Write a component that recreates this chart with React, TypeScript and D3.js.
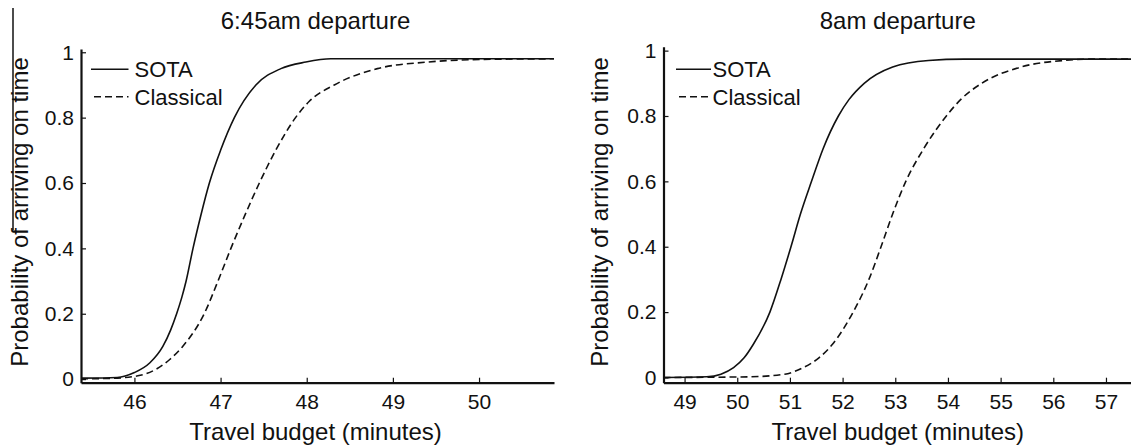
import React, { useRef, useEffect } from "react";
import * as d3 from "d3";

// tick values / labels
const earlyTicks = [46, 47, 48, 49, 50];
const lateTicks = [49, 50, 51, 52, 53, 54, 55, 56, 57];
const probTicks = [0, 0.2, 0.4, 0.6, 0.8, 1];

// 6:45am departure
const earlySotaX = [45.38, 45.8, 46.0, 46.18, 46.33, 46.42, 46.49, 46.55, 46.6, 46.68, 46.77, 46.87, 47.0, 47.16, 47.41, 47.7, 47.99, 48.28, 50.87];
const earlySotaY = [0.003, 0.005, 0.02, 0.05, 0.1, 0.15, 0.2, 0.25, 0.3, 0.4, 0.5, 0.6, 0.7, 0.8, 0.9, 0.95, 0.97, 0.98, 0.98];
const earlyClassicalX = [45.38, 45.7, 46.04, 46.25, 46.41, 46.56, 46.81, 46.97, 47.12, 47.28, 47.45, 47.64, 47.87, 48.03, 48.32, 48.82, 49.4, 50.02, 50.87];
const earlyClassicalY = [0.001, 0.002, 0.01, 0.03, 0.06, 0.1, 0.2, 0.3, 0.4, 0.5, 0.6, 0.7, 0.8, 0.85, 0.9, 0.95, 0.97, 0.978, 0.98];

// 8am departure
const lateSotaX = [48.6, 49.42, 49.69, 49.93, 50.13, 50.3, 50.62, 50.83, 51.02, 51.2, 51.41, 51.63, 51.92, 52.12, 52.41, 52.95, 53.63, 54.3, 57.6];
const lateSotaY = [0, 0.002, 0.01, 0.03, 0.06, 0.1, 0.2, 0.3, 0.4, 0.5, 0.6, 0.7, 0.8, 0.85, 0.9, 0.95, 0.97, 0.974, 0.974];
const lateClassicalX = [48.6, 50.23, 50.9, 51.25, 51.55, 51.8, 52.2, 52.5, 52.73, 52.95, 53.2, 53.54, 53.97, 54.24, 54.64, 55.39, 56.2, 56.68, 57.6];
const lateClassicalY = [0, 0.002, 0.01, 0.03, 0.06, 0.1, 0.2, 0.3, 0.4, 0.5, 0.6, 0.7, 0.8, 0.85, 0.9, 0.95, 0.97, 0.974, 0.974];

const seriesNames = ["SOTA", "Classical"];

const FONT = "'Liberation Sans', Arial, sans-serif";
const INK = "#111";

const zip = (xs, ys) => xs.map((x, i) => [x, ys[i]]);

const panels = [
  {
    title: "6:45am departure",
    xDomain: [45.38, 50.87],
    xRange: [81, 554],
    yDomain: [-0.011, 1.01],
    yRange: [382.7, 49],
    ticks: earlyTicks,
    sota: zip(earlySotaX, earlySotaY),
    classical: zip(earlyClassicalX, earlyClassicalY),
    ylabelX: 28,
    legendDx: [10, 13],
    legendGap: 6,
  },
  {
    title: "8am departure",
    xDomain: [48.6, 57.57],
    xRange: [663.5, 1136],
    yDomain: [-0.016, 1.012],
    yRange: [382.7, 46.7],
    ticks: lateTicks,
    sota: zip(lateSotaX, lateSotaY),
    classical: zip(lateClassicalX, lateClassicalY),
    ylabelX: 608,
    legendDx: [12.5, 15.5],
    legendGap: 1.5,
  },
];

const App = () => {
  const svgRef = useRef(null);
  const width = 1131;
  const height = 448;

  useEffect(() => {
    const svg = d3.select(svgRef.current);
    svg.selectAll("*").remove();

    // stray border line left over from the original figure crop
    svg
      .append("line")
      .attr("x1", 13)
      .attr("x2", 13)
      .attr("y1", 8)
      .attr("y2", 230)
      .attr("stroke", INK)
      .attr("stroke-width", 1.5);

    panels.forEach((p) => {
      const x = d3.scaleLinear().domain(p.xDomain).range(p.xRange);
      const y = d3.scaleLinear().domain(p.yDomain).range(p.yRange);
      const g = svg.append("g");

      const line = d3
        .line()
        .x((d) => x(d[0]))
        .y((d) => y(d[1]))
        .curve(d3.curveMonotoneX);

      g.append("path")
        .datum(p.sota)
        .attr("d", line)
        .attr("fill", "none")
        .attr("stroke", INK)
        .attr("stroke-width", 1.6);

      g.append("path")
        .datum(p.classical)
        .attr("d", line)
        .attr("fill", "none")
        .attr("stroke", INK)
        .attr("stroke-width", 1.6)
        .attr("stroke-dasharray", "7,4");

      // x axis
      const xAxis = g
        .append("g")
        .attr("transform", `translate(0,${p.yRange[0]})`)
        .call(
          d3
            .axisBottom(x)
            .tickValues(p.ticks)
            .tickSizeInner(-5)
            .tickSizeOuter(0)
            .tickPadding(11)
            .tickFormat(d3.format("d"))
        );

      // y axis
      const yAxis = g
        .append("g")
        .attr("transform", `translate(${p.xRange[0]},0)`)
        .call(
          d3
            .axisLeft(y)
            .tickValues(probTicks)
            .tickSizeInner(-5)
            .tickSizeOuter(0)
            .tickPadding(7)
            .tickFormat((d) => String(+d.toFixed(1)))
        );

      [xAxis, yAxis].forEach((a) => {
        a.select(".domain").attr("stroke", INK).attr("stroke-width", 2.2);
        a.selectAll(".tick line").attr("stroke", INK).attr("stroke-width", 1.2);
        a.selectAll("text")
          .attr("fill", INK)
          .style("font-family", FONT)
          .style("font-size", "21px");
      });

      const cx = (p.xRange[0] + p.xRange[1]) / 2;

      g.append("text")
        .attr("x", cx - 2)
        .attr("y", 29)
        .attr("text-anchor", "middle")
        .attr("fill", INK)
        .style("font-family", FONT)
        .style("font-size", "24px")
        .text(p.title);

      g.append("text")
        .attr("x", cx - 2)
        .attr("y", 440)
        .attr("text-anchor", "middle")
        .attr("fill", INK)
        .style("font-family", FONT)
        .style("font-size", "24px")
        .text("Travel budget (minutes)");

      const ylCenter = 212;
      g.append("text")
        .attr("transform", `translate(${p.ylabelX},${ylCenter}) rotate(-90)`)
        .attr("text-anchor", "middle")
        .attr("fill", INK)
        .style("font-family", FONT)
        .style("font-size", "24px")
        .text("Probability of arriving on time");

      // legend
      const lx = p.xRange[0];
      seriesNames.forEach((name, i) => {
        const ly = 69.3 + i * 27.4;
        const x0 = lx + p.legendDx[i];
        const x1 = lx + 47.5;
        g.append("line")
          .attr("x1", x0)
          .attr("x2", x1)
          .attr("y1", ly)
          .attr("y2", ly)
          .attr("stroke", INK)
          .attr("stroke-width", 1.6)
          .attr("stroke-dasharray", i === 1 ? "7,4" : null);
        g.append("text")
          .attr("x", x1 + p.legendGap)
          .attr("y", ly + 8)
          .attr("fill", INK)
          .style("font-family", FONT)
          .style("font-size", "22px")
          .text(name);
      });
    });
  }, []);

  return (
    <svg
      ref={svgRef}
      width={width}
      height={height}
      style={{ position: "absolute", left: 0, top: 0, background: "#fff" }}
    ></svg>
  );
};

export default App;
